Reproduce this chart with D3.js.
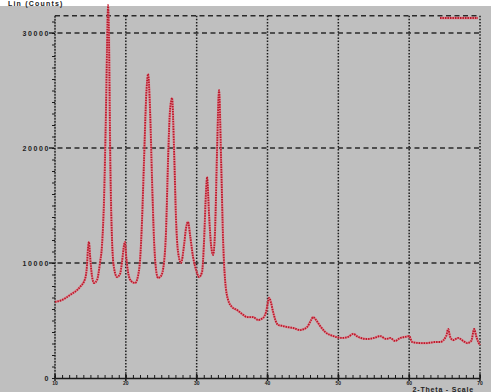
<!DOCTYPE html>
<html>
<head>
<meta charset="utf-8">
<script src="https://cdn.jsdelivr.net/npm/d3@7/dist/d3.min.js"></script>
<style>
  html, body { margin: 0; padding: 0; background: #ffffff; }
  svg { display: block; font-family: "Liberation Sans", Arial, sans-serif; }
</style>
</head>
<body>
<svg id="chart" width="491" height="392"></svg>
<script>
// Diffraction scan: 2-Theta (deg) against intensity (counts)
const twoTheta = [
  10.00, 10.99, 12.12, 13.53, 14.24, 14.52, 14.66, 14.80, 14.94, 15.22,
  15.51, 15.93, 16.35, 16.64, 16.92, 17.20, 17.34, 17.49, 17.63, 17.77,
  18.05, 18.33, 18.76, 19.18, 19.46, 19.75, 19.89, 20.03, 20.31, 20.73,
  21.30, 21.72, 22.01, 22.29, 22.57, 22.85, 23.14, 23.42, 23.70, 23.98,
  24.27, 24.55, 24.97, 25.40, 25.68, 25.96, 26.24, 26.53, 26.81, 27.09,
  27.37, 27.80, 28.22, 28.50, 28.79, 29.07, 29.49, 29.92, 30.34, 30.76,
  31.05, 31.33, 31.47, 31.75, 32.03, 32.32, 32.60, 32.88, 33.16, 33.45,
  33.73, 34.01, 34.44, 35.00, 35.71, 36.41, 37.12, 37.97, 38.67, 39.38,
  39.80, 40.23, 40.51, 40.79, 41.50, 42.20, 42.77, 43.62, 44.60, 45.59,
  46.16, 46.44, 46.86, 47.43, 48.14, 49.27, 50.54, 51.38, 52.09, 52.80,
  54.07, 55.06, 55.91, 56.75, 57.32, 58.02, 58.73, 59.44, 60.00, 60.42,
  61.55, 62.54, 63.67, 64.38, 65.23, 65.51, 65.79, 66.21, 66.92, 67.63,
  68.19, 68.76, 69.18, 69.46, 69.75, 70.00
];
const counts = [
   6610,  6780,  7220,  7910,  8610,  9830, 11300, 11830, 10700,  8870,
   8260,  8520, 10000, 11570, 15480, 23300, 28520, 32430, 29390, 20700,
  12000,  9570,  8780,  9040, 10090, 11570, 11830, 10700,  9220,  8440,
   8260,  8870, 10260, 13740, 18960, 24170, 26430, 23300, 17220, 12000,
   9390,  8700,  8870, 10090, 12870, 18960, 23300, 24350, 19830, 13740,
  10960, 10000, 11570, 13040, 13570, 12430, 10520,  9390,  8780,  9220,
  12000, 16350, 17480, 14170, 11570, 10700, 12870, 19830, 25040, 18960,
  12000,  8520,  6780,  6170,  5910,  5570,  5300,  5300,  5040,  5220,
   5740,  6960,  6520,  5740,  4610,  4520,  4430,  4350,  4170,  4430,
   5040,  5300,  5040,  4520,  4000,  3650,  3480,  3570,  3830,  3570,
   3390,  3480,  3650,  3390,  3480,  3220,  3480,  3570,  3650,  3130,
   3040,  3040,  3130,  3130,  3650,  4260,  3570,  3300,  3480,  3220,
   3040,  3220,  4260,  3650,  3130,  2870
];
const xTicks = [10, 20, 30, 40, 50, 60, 70];
const xTickLabels = ["10", "20", "30", "40", "50", "60", "70"];
const yTicks = [0, 10000, 20000, 30000];
const yTickLabels = ["0", "10000", "20000", "30000"];
const yTitle = "Lin (Counts)";
const xTitle = "2-Theta - Scale";

const svg = d3.select("#chart");
const W = 491, H = 392;

// page background: white strip on top, grey panel below
svg.append("rect").attr("width", W).attr("height", H).attr("fill", "#ffffff");
svg.append("rect").attr("x", 0).attr("y", 6).attr("width", W).attr("height", H - 6).attr("fill", "#bfbfbf");

const x = d3.scaleLinear().domain([10, 70]).range([55, 480]);
const y = d3.scaleLinear().domain([0, 30000]).range([378, 33]);
const yTop = y(31500);

const ink = "#1a1a1a";

// horizontal dashed grid + top frame
const hLines = yTicks.slice(1).concat([31500]);
svg.append("g").selectAll("line").data(hLines).join("line")
  .attr("x1", d => d === 31500 ? x(10) : x(10) - 6)
  .attr("x2", x(70))
  .attr("y1", d => y(d)).attr("y2", d => y(d))
  .attr("stroke", "#2a2a2a").attr("stroke-width", 1.3)
  .attr("stroke-dasharray", "5,3.5");

// vertical dotted grid + right frame
svg.append("g").selectAll("line").data(xTicks.slice(1)).join("line")
  .attr("x1", d => x(d)).attr("x2", d => x(d))
  .attr("y1", yTop).attr("y2", y(0))
  .attr("stroke", ink).attr("stroke-width", 1.5)
  .attr("stroke-dasharray", "1.5,1.6");

// left axis with minor ticks
const yMinor = d3.range(0, 31500, 1000);
const gy = svg.append("g").attr("transform", `translate(${x(10)},0)`)
  .call(d3.axisLeft(y).tickValues(yMinor).tickSize(3).tickFormat(""));
gy.select(".domain").remove();
gy.selectAll("line").attr("stroke", ink).attr("stroke-width", 1);
gy.append("line").attr("x1", 0).attr("x2", 0).attr("y1", yTop).attr("y2", y(0))
  .attr("stroke", ink).attr("stroke-width", 1.4).attr("stroke-dasharray", "2,1");

// left tick labels
svg.append("g").selectAll("text").data(yTicks).join("text")
  .attr("x", x(10) - 5).attr("y", d => y(d) + 2.5)
  .attr("text-anchor", "end")
  .attr("font-size", 7).attr("font-weight", "bold")
  .attr("letter-spacing", 1.6)
  .attr("fill", "#222")
  .text((d, i) => yTickLabels[i]);

// bottom axis with minor ticks pointing up
const xMinor = d3.range(10, 70.01, 1);
const gx = svg.append("g").attr("transform", `translate(0,${y(0)})`)
  .call(d3.axisBottom(x).tickValues(xMinor).tickSizeInner(-3).tickSizeOuter(0).tickFormat(""));
gx.select(".domain").attr("stroke", ink).attr("stroke-width", 1.3);
gx.selectAll("line").attr("stroke", ink).attr("stroke-width", 1);
gx.append("g").selectAll("line").data(xTicks).join("line")
  .attr("x1", d => x(d)).attr("x2", d => x(d))
  .attr("y1", -4).attr("y2", 3)
  .attr("stroke", ink).attr("stroke-width", 1.5);

// bottom tick labels
svg.append("g").selectAll("text").data(xTicks).join("text")
  .attr("x", d => x(d)).attr("y", y(0) + 7)
  .attr("text-anchor", "middle")
  .attr("font-size", 5).attr("font-weight", "bold")
  .attr("fill", "#222")
  .text((d, i) => xTickLabels[i]);

// axis titles
svg.append("text").attr("x", 8).attr("y", 5.5)
  .attr("font-size", 7).attr("font-weight", "bold").attr("fill", "#222")
  .attr("letter-spacing", 1.2)
  .text(yTitle);
svg.append("text").attr("x", 474).attr("y", 391.5)
  .attr("text-anchor", "end")
  .attr("font-size", 7).attr("font-weight", "bold").attr("fill", "#222")
  .attr("letter-spacing", 0.8)
  .text(xTitle);

// scan trace
const data = twoTheta.map((t, i) => [t, counts[i]]);
const line = d3.line().x(d => x(d[0])).y(d => y(d[1])).curve(d3.curveMonotoneX);
svg.append("path").datum(data).attr("d", line)
  .attr("fill", "none").attr("stroke", "#e86a78").attr("stroke-width", 2.2)
  .attr("stroke-opacity", 0.7).attr("stroke-linejoin", "round");
svg.append("path").datum(data).attr("d", line)
  .attr("fill", "none").attr("stroke", "#b8182a").attr("stroke-width", 1.8)
  .attr("stroke-dasharray", "1.4,1.1").attr("stroke-linejoin", "round");

// legend swatch, top right
const lg = svg.append("g");
lg.append("line").attr("x1", 440).attr("x2", 478).attr("y1", 18).attr("y2", 18)
  .attr("stroke", "#e86a78").attr("stroke-width", 2.4).attr("stroke-opacity", 0.7);
lg.append("line").attr("x1", 440).attr("x2", 478).attr("y1", 18).attr("y2", 18)
  .attr("stroke", "#b8182a").attr("stroke-width", 2).attr("stroke-dasharray", "1.4,1.1");
</script>
</body>
</html>
